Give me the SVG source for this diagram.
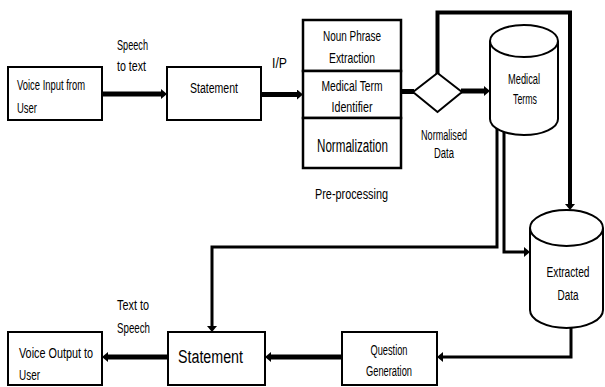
<svg xmlns="http://www.w3.org/2000/svg" width="605" height="387" viewBox="0 0 605 387">
<style>
.box{fill:#fff;stroke:#000;stroke-width:2}
.stk{fill:#fff;stroke:#000;stroke-width:2.5}
.t{font-family:"Liberation Sans",Arial,sans-serif;font-size:14px;fill:#000}
.tl{font-family:"Liberation Sans",Arial,sans-serif;font-size:18px;fill:#000}
.c{text-anchor:middle}
.w5{fill:none;stroke:#000;stroke-width:5}
.w4{fill:none;stroke:#000;stroke-width:4}
.w3{fill:none;stroke:#000;stroke-width:3}
</style>
<defs>
<marker id="ah" viewBox="0 0 6 10" refX="0" refY="5" markerWidth="6" markerHeight="10" markerUnits="userSpaceOnUse" orient="auto">
<path d="M0,0 L6,5 L0,10 z" fill="#000"/>
</marker>
</defs>
<rect width="605" height="387" fill="#fff"/>

<g id="connectors">
<path class="w5" d="M102,94 H161" marker-end="url(#ah)"/>
<path class="w5" d="M261,94.5 H297" marker-end="url(#ah)"/>
<path class="w5" d="M401,91.5 H414"/>
<path class="w5" d="M461,91 H484" marker-end="url(#ah)"/>
<path class="w4" d="M437.5,74 V12.5 H570 V204" marker-end="url(#ah)"/>
<path class="w3" d="M497,128 V247 H212 V326" marker-end="url(#ah)"/>
<path class="w3" d="M504,131 V252 H524" marker-end="url(#ah)"/>
<path class="w3" d="M571,327 V357 H443" marker-end="url(#ah)"/>
<path class="w5" d="M342,357 H271" marker-end="url(#ah)"/>
<path class="w5" d="M168,357 H108" marker-end="url(#ah)"/>
</g>

<g id="labels">
<text class="t" x="117" y="50" textLength="31" lengthAdjust="spacingAndGlyphs">Speech</text>
<text class="t" x="117" y="71" textLength="29" lengthAdjust="spacingAndGlyphs">to text</text>
<text class="t" x="272" y="68" textLength="15" lengthAdjust="spacingAndGlyphs">I/P</text>
<text class="t c" x="444" y="140" textLength="46" lengthAdjust="spacingAndGlyphs">Normalised</text>
<text class="t c" x="444" y="158" textLength="20" lengthAdjust="spacingAndGlyphs">Data</text>
<text class="t c" x="351.5" y="199" font-size="15" textLength="73" lengthAdjust="spacingAndGlyphs">Pre-processing</text>
<text class="t" x="117" y="310" textLength="32" lengthAdjust="spacingAndGlyphs">Text to</text>
<text class="t" x="117" y="333" textLength="33" lengthAdjust="spacingAndGlyphs">Speech</text>
</g>

<g id="voice-input">
<rect class="box" x="8" y="67" width="94" height="53"/>
<text class="t" x="17" y="90" textLength="68" lengthAdjust="spacingAndGlyphs">Voice Input from</text>
<text class="t" x="17" y="113" textLength="20" lengthAdjust="spacingAndGlyphs">User</text>
</g>

<g id="statement-1">
<rect class="box" x="167" y="67" width="94" height="53"/>
<text class="t c" x="214" y="93" textLength="48" lengthAdjust="spacingAndGlyphs">Statement</text>
</g>

<g id="pre-processing">
<rect class="stk" x="303" y="20" width="98" height="51"/>
<rect class="stk" x="303" y="71" width="98" height="47"/>
<rect class="stk" x="303" y="118" width="98" height="50"/>
<text class="t c" x="352" y="41" textLength="58" lengthAdjust="spacingAndGlyphs">Noun Phrase</text>
<text class="t c" x="352" y="63" textLength="46" lengthAdjust="spacingAndGlyphs">Extraction</text>
<text class="t c" x="352" y="91" textLength="61" lengthAdjust="spacingAndGlyphs">Medical Term</text>
<text class="t c" x="352" y="112" textLength="41" lengthAdjust="spacingAndGlyphs">Identifier</text>
<text class="tl c" x="352.5" y="152" textLength="71" lengthAdjust="spacingAndGlyphs">Normalization</text>
</g>

<g id="decision">
<polygon class="box" points="437.5,73 462,92 437.5,112 413,92"/>
</g>

<g id="medical-terms">
<path class="box" d="M490,41 V119 A34,16 0 0 0 558,119 V41"/>
<ellipse class="box" cx="524" cy="41" rx="34" ry="16"/>
<text class="t c" x="524" y="84" textLength="32" lengthAdjust="spacingAndGlyphs">Medical</text>
<text class="t c" x="525" y="104" textLength="24" lengthAdjust="spacingAndGlyphs">Terms</text>
</g>

<g id="extracted-data">
<path class="box" d="M530,228 V310 A36.5,18 0 0 0 603,310 V228"/>
<ellipse class="box" cx="566.5" cy="228" rx="36.5" ry="18"/>
<text class="t c" x="568" y="277" textLength="43" lengthAdjust="spacingAndGlyphs">Extracted</text>
<text class="t c" x="568" y="300" textLength="21" lengthAdjust="spacingAndGlyphs">Data</text>
</g>

<g id="question-generation">
<rect class="box" x="342" y="332" width="95" height="53"/>
<text class="t c" x="389" y="355" textLength="37" lengthAdjust="spacingAndGlyphs">Question</text>
<text class="t c" x="389" y="376" textLength="46" lengthAdjust="spacingAndGlyphs">Generation</text>
</g>

<g id="statement-2">
<rect class="box" x="168" y="332" width="97" height="53"/>
<text class="tl c" x="210.5" y="363" textLength="65" lengthAdjust="spacingAndGlyphs">Statement</text>
</g>

<g id="voice-output">
<rect class="box" x="8" y="332" width="94" height="53"/>
<text class="t" x="19" y="358" textLength="74" lengthAdjust="spacingAndGlyphs">Voice Output to</text>
<text class="t" x="19" y="380" textLength="21" lengthAdjust="spacingAndGlyphs">User</text>
</g>
</svg>
